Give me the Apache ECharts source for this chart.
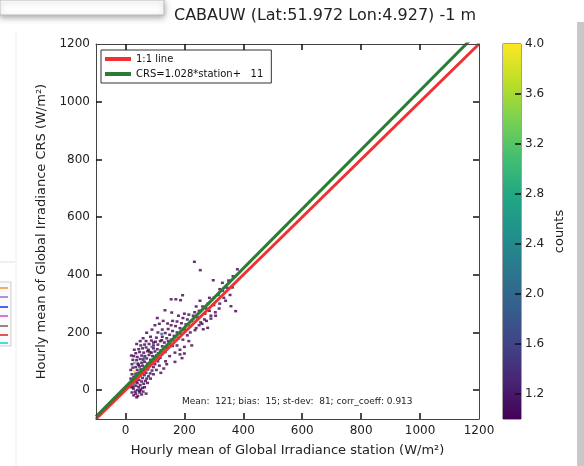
<!DOCTYPE html>
<html><head><meta charset="utf-8">
<script src="https://cdn.jsdelivr.net/npm/echarts@6/dist/echarts.min.js"></script>
<style>html,body{margin:0;padding:0;background:#fff;overflow:hidden}#c{width:584px;height:466px}</style>
</head><body><div id="c"></div><script>
const titleText = 'CABAUW (Lat:51.972 Lon:4.927) -1 m';
const xAxisName = 'Hourly mean of Global Irradiance station (W/m²)';
const yAxisName = 'Hourly mean of Global Irradiance CRS (W/m²)';
const statsText = 'Mean:  121; bias:  15; st-dev:  81; corr_coeff: 0.913';
const xTicks = [0, 200, 400, 600, 800, 1000, 1200];
const yTicks = [0, 200, 400, 600, 800, 1000, 1200];
const cbTicks = [1.2, 1.6, 2.0, 2.4, 2.8, 3.2, 3.6, 4.0];
const axisRange = [-100, 1200];
const cbRange = [1.0, 4.0];
const lineNames = ['1:1 line', 'CRS=1.028*station+   11'];
const fitSlope = 1.028;
const fitIntercept = 11;
const viridis = ['#440154','#482475','#414487','#355f8d','#2a788e','#21918c','#22a884','#44bf70','#7ad151','#bddf26','#fde725'];
// [station, CRS, count] histogram bins
const binPoints = [
[28,-18,1],[35,-12,1],[42,-20,1],[48,-8,1],[33,-5,1],[40,0,1],[52,2,1],[27,5,1],[45,10,1],[58,8,1],
[36,15,1],[30,20,2],[50,18,1],[62,22,1],[40,25,1],[55,30,1],[25,30,1],[46,35,1],[68,32,1],[33,38,1],
[58,42,1],[72,40,1],[28,45,1],[40,48,2],[50,50,1],[64,52,1],[78,48,1],[22,55,1],[35,58,1],[45,60,1],
[56,62,2],[70,60,1],[84,58,1],[30,65,4],[40,70,1],[52,72,1],[62,70,1],[76,72,1],[90,68,1],[25,78,1],
[35,80,1],[48,82,1],[58,85,1],[68,80,2],[80,84,1],[95,80,1],[22,90,1],[30,94,3],[42,92,1],[55,95,1],
[65,98,1],[75,92,1],[88,95,1],[100,90,1],[25,105,1],[38,104,1],[50,108,1],[60,106,1],[72,110,1],[85,105,1],
[98,108,2],[110,100,1],[28,118,1],[40,115,1],[55,120,1],[66,118,1],[80,122,1],[92,118,1],[105,120,1],[118,112,1],
[35,128,1],[48,132,1],[62,130,1],[75,135,1],[88,130,1],[100,134,1],[112,128,1],[125,125,1],[45,142,1],[58,145,1],
[70,148,1],[83,132,1],[95,145,1],[108,142,1],[120,138,1],[135,132,1],[52,155,1],[65,158,1],[80,160,1],[95,155,1],
[110,158,1],[125,152,1],[140,148,1],[70,170,1],[88,172,1],[102,168,1],[118,170,1],[132,165,1],[148,160,1],[72,199,1],
[95,165,1],[85,185,1],[105,182,1],[123,195,2],[125,185,1],[140,180,1],[155,175,1],[110,200,1],[135,198,1],[150,192,1],
[165,188,1],[125,210,1],[145,212,1],[160,205,1],[175,200,1],[190,195,1],[143,231,1],[155,225,1],[170,222,1],[185,215,1],
[200,210,1],[134,277,1],[157,269,1],[160,240,1],[175,238,1],[190,232,1],[205,228,1],[220,222,1],[180,258,1],[195,250,1],
[210,245,1],[225,240,1],[236,208,1],[264,211,1],[279,216,1],[200,265,1],[215,262,1],[230,258,1],[245,252,1],[155,315,1],
[171,315,1],[187,312,1],[194,329,1],[253,310,1],[274,283,1],[290,258,1],[306,258,1],[318,283,1],[334,320,1],[358,291,1],
[374,274,1],[234,445,1],[254,416,1],[298,381,1],[329,372,1],[363,356,1],[380,419,1],[250,275,1],[262,290,1],[240,290,1],
[280,300,1],[300,320,1],[315,330,1],[330,345,1],[345,355,1],[350,380,1],[365,395,1],[320,350,1],[285,320,1],[270,265,1],
[255,235,1],[235,270,1],[268,245,1],[285,275,1],[300,295,1],[225,155,1],[200,127,1],[185,124,1],[192,111,1],[168,98,1],
[136,100,1],[112,109,1],[160,153,1],[123,173,1],[168,130,1],[150,118,1],[140,90,1],[130,75,1],[120,60,1],[115,85,1],
[105,70,1],[95,55,1],[85,40,1],[75,25,1],[65,10,1],[60,-5,1],[70,-12,1],[38,-25,1],[55,-15,1],[180,180,1],
[195,175,1],[210,190,1],[220,200,1],[240,215,1],[250,225,1],[260,230,1],[275,240,1],[290,248,1],[305,270,1],[320,300,1],
[340,310,1],[355,330,1],[200,150,1],[215,170,1],[175,155,1],[185,140,1],[160,175,1],[145,170,1],[20,10,1],[22,-8,1],
[18,40,1],[18,70,1],[20,120,1],[30,140,1],[38,160,1],[60,180,1],[50,170,1],[90,210,1],[100,225,1],[115,230,1],
[128,240,1],[108,250,1],[32,52,2],[44,88,1],[63,112,2],[78,140,1],[90,150,2],[26,12,1],[48,-2,1],[37,30,1]
];

const font = 'DejaVu Sans';
const chart = echarts.init(document.getElementById('c'), null, {renderer: 'canvas'});
const line1 = axisRange.map(v => [v, v]);
const line2 = axisRange.map(v => [v, fitSlope * v + fitIntercept]);
const grad = new echarts.graphic.LinearGradient(0, 1, 0, 0, viridis.map((c, i) => ({offset: i / (viridis.length - 1), color: c})));

const mkTick = vals => ({show: true, inside: true, length: 6, customValues: vals, lineStyle: {color: '#111', width: 1.5}});
const axLine = {show: true, onZero: false, lineStyle: {color: '#444', width: 1}};
const plain = v => String(v);
chart.setOption({
  animation: false,
  backgroundColor: '#fff',
  title: {text: titleText, left: 169, top: 3, textStyle: {fontFamily: font, fontSize: 16, fontWeight: 'normal', color: '#222'}},
  legend: {
    data: lineNames, orient: 'vertical', left: 101, top: 50, icon: 'rect', itemWidth: 26, itemHeight: 4, itemGap: 5,
    padding: [4, 8, 4, 4], backgroundColor: '#fff', borderColor: '#333', borderWidth: 1, borderRadius: 0,
    textStyle: {fontFamily: font, fontSize: 10, color: '#111'}
  },
  visualMap: {type: 'continuous', show: false, min: cbRange[0], max: cbRange[1], dimension: 2, seriesIndex: 0, inRange: {color: viridis}},
  grid: [
    {left: 96, top: 44, width: 383, height: 375, show: false},
    {left: 503, top: 44, width: 18, height: 375, show: true, borderColor: '#444', borderWidth: 1}
  ],
  xAxis: [
    {type: 'value', gridIndex: 0, min: axisRange[0], max: axisRange[1], position: 'bottom', z: 6,
     name: xAxisName, nameLocation: 'middle', nameGap: 25, nameTextStyle: {fontFamily: font, fontSize: 13, color: '#222'},
     axisLine: axLine, splitLine: {show: false},
     axisTick: mkTick(xTicks.slice(0, -1)),
     axisLabel: {customValues: xTicks, formatter: plain, fontFamily: font, fontSize: 12, color: '#222', margin: 6}},
    {type: 'value', gridIndex: 0, min: axisRange[0], max: axisRange[1], position: 'top', z: 6,
     axisLine: axLine, splitLine: {show: false}, axisLabel: {show: false},
     axisTick: mkTick(xTicks.slice(0, -1))},
    {type: 'category', gridIndex: 1, data: ['c'], show: false, boundaryGap: true}
  ],
  yAxis: [
    {type: 'value', gridIndex: 0, min: axisRange[0], max: axisRange[1], position: 'left', z: 6,
     name: yAxisName, nameLocation: 'middle', nameGap: 40, nameTextStyle: {fontFamily: font, fontSize: 13, color: '#222'},
     axisLine: axLine, splitLine: {show: false},
     axisTick: mkTick(yTicks.slice(0, -1)),
     axisLabel: {customValues: yTicks, formatter: plain, fontFamily: font, fontSize: 12, color: '#222', margin: 6}},
    {type: 'value', gridIndex: 0, min: axisRange[0], max: axisRange[1], position: 'right', z: 6,
     axisLine: axLine, splitLine: {show: false}, axisLabel: {show: false},
     axisTick: mkTick(yTicks.slice(0, -1))},
    {type: 'value', gridIndex: 1, min: cbRange[0], max: cbRange[1], position: 'right', z: 6,
     name: 'counts', nameLocation: 'middle', nameGap: 32, nameRotate: 90,
     nameTextStyle: {fontFamily: font, fontSize: 13, color: '#222'},
     axisLine: {show: false, onZero: false}, splitLine: {show: false},
     axisTick: mkTick(cbTicks.slice(0, -1)),
     axisLabel: {customValues: cbTicks, formatter: v => v.toFixed(1), fontFamily: font, fontSize: 12, color: '#222', margin: 4}}
  ],
  series: [
    {type: 'scatter', xAxisIndex: 0, yAxisIndex: 0, symbol: 'rect', symbolSize: [3, 2.5], data: binPoints, z: 2, silent: true},
    {type: 'line', name: lineNames[0], xAxisIndex: 0, yAxisIndex: 0, data: line1, showSymbol: false, symbol: 'none', clip: true,
     lineStyle: {color: '#f23030', width: 3}, itemStyle: {color: '#f23030'}, z: 3},
    {type: 'line', name: lineNames[1], xAxisIndex: 0, yAxisIndex: 0, data: line2, showSymbol: false, symbol: 'none', clip: true,
     lineStyle: {color: '#2b7d33', width: 3}, itemStyle: {color: '#2b7d33'}, z: 4},
    {type: 'bar', xAxisIndex: 2, yAxisIndex: 2, data: [cbRange[1]], barWidth: '100%', itemStyle: {color: grad}, silent: true, z: 1}
  ],
  graphic: [
    {type: 'text', left: 182, top: 397, style: {text: statsText, fontFamily: font, fontSize: 9, fill: '#222'}},
    {type: 'rect', shape: {x: 0, y: 0, width: 164, height: 15}, style: {fill: '#fff', stroke: '#bbb', lineWidth: 1, shadowBlur: 6, shadowColor: 'rgba(0,0,0,0.35)', shadowOffsetY: 2}, z: 10},
    {type: 'rect', shape: {x: 577, y: 22, width: 7, height: 444}, style: {fill: '#c8c8c8'}, z: 10},
    {type: 'line', shape: {x1: 16, y1: 32, x2: 16, y2: 466}, style: {stroke: '#ececec', lineWidth: 1}},
    {type: 'line', shape: {x1: 0, y1: 262, x2: 15, y2: 262}, style: {stroke: '#e0e0e0', lineWidth: 1}},
    {type: 'rect', shape: {x: -2, y: 282, width: 13, height: 64}, style: {fill: '#fafafa', stroke: '#cfcfcf', lineWidth: 1}},
    {type: 'line', shape: {x1: 0, y1: 288, x2: 8, y2: 288}, style: {stroke: '#f0b060', lineWidth: 2}},
    {type: 'line', shape: {x1: 0, y1: 297, x2: 8, y2: 297}, style: {stroke: '#b090e0', lineWidth: 2}},
    {type: 'line', shape: {x1: 0, y1: 307, x2: 8, y2: 307}, style: {stroke: '#5060ff', lineWidth: 2}},
    {type: 'line', shape: {x1: 0, y1: 316, x2: 8, y2: 316}, style: {stroke: '#e070e0', lineWidth: 2}},
    {type: 'line', shape: {x1: 0, y1: 326, x2: 8, y2: 326}, style: {stroke: '#a08080', lineWidth: 2}},
    {type: 'line', shape: {x1: 0, y1: 335, x2: 8, y2: 335}, style: {stroke: '#f05050', lineWidth: 2}},
    {type: 'line', shape: {x1: 0, y1: 343, x2: 8, y2: 343}, style: {stroke: '#40e0e0', lineWidth: 2}}
  ]
});
</script></body></html>
